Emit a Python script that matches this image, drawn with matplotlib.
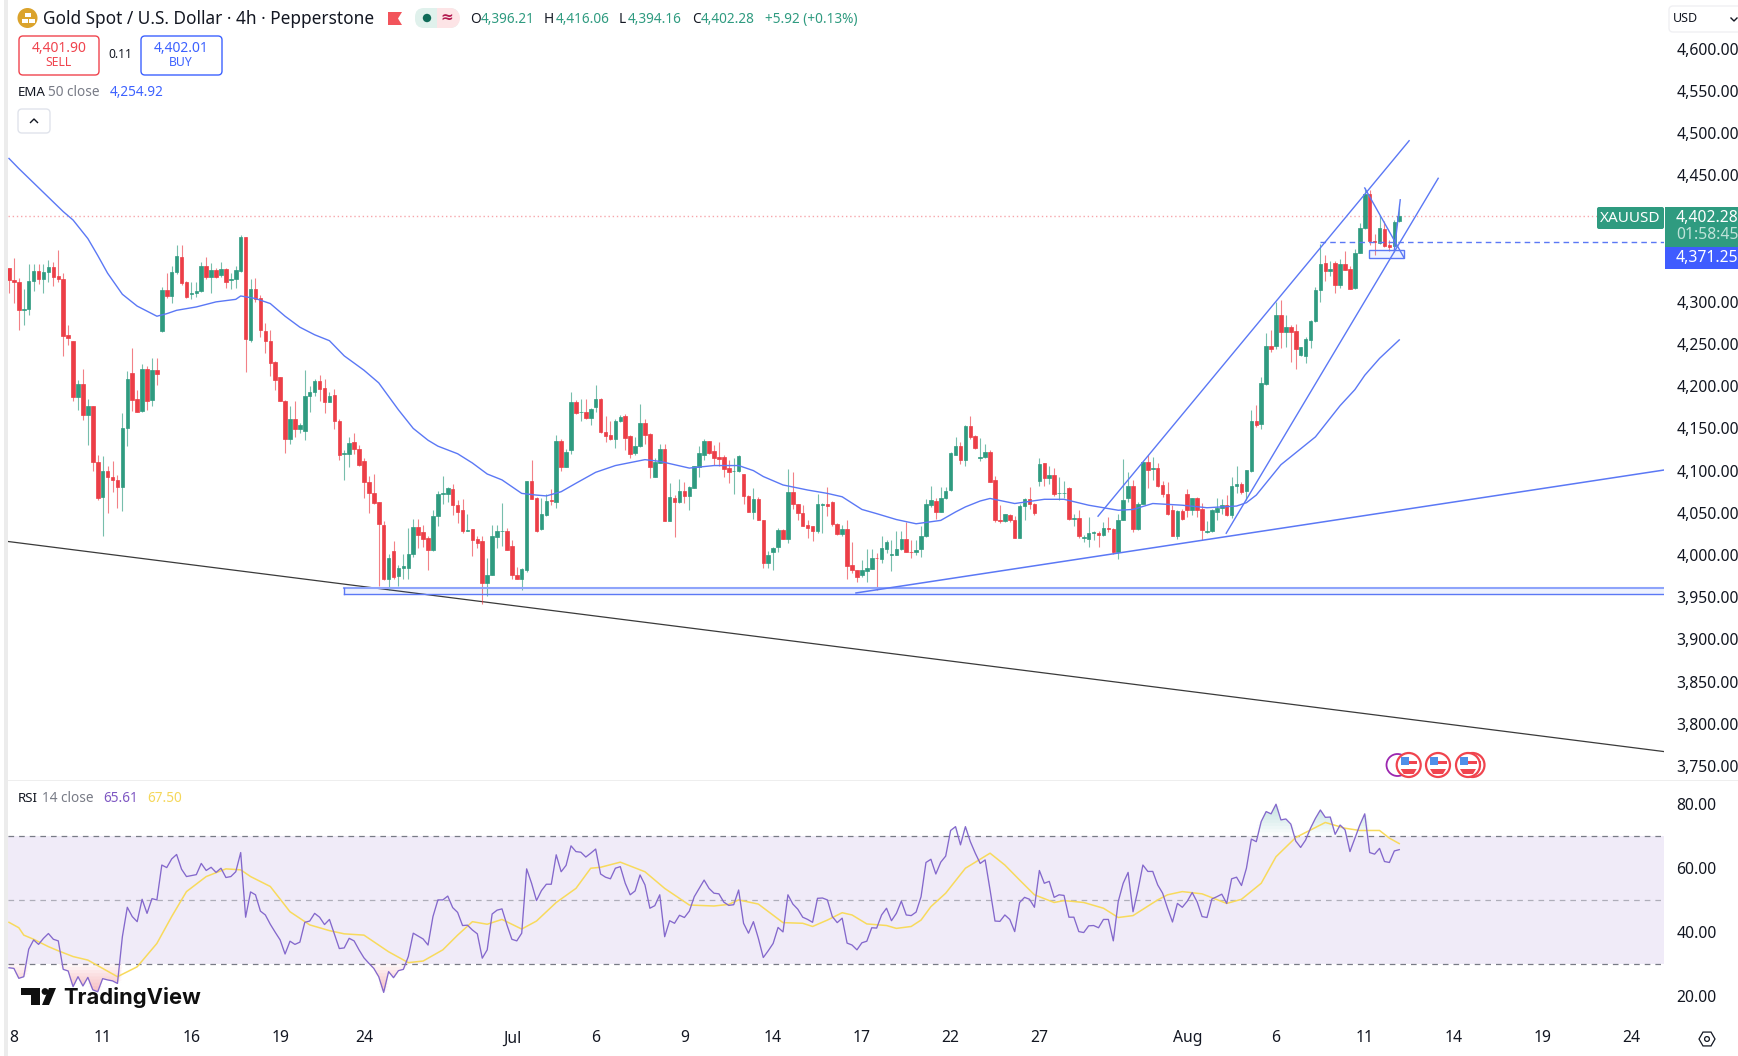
import numpy as np
import matplotlib
matplotlib.use("Agg")
import matplotlib.pyplot as plt
from matplotlib.patches import Rectangle, FancyBboxPatch, Circle, Polygon, RegularPolygon

plt.rcParams['font.family'] = ['Noto Sans', 'DejaVu Sans']

opens = [4340,4326,4324,4290,4292,4325,4337,4327,4335,4341,
4331,4327,4261,4254,4187,4203,4166,4177,4110,4069,
4100,4093,4089,4081,4150,4216,4185,4171,4220,4184,
4219,4266,4314,4307,4335,4353,4323,4309,4311,4313,
4343,4330,4338,4332,4339,4326,4327,4337,4377,4255,
4315,4305,4266,4254,4229,4211,4183,4137,4161,4149,
4147,4189,4193,4206,4198,4181,4190,4159,4120,4120,
4134,4126,4111,4087,4073,4063,4036,3971,4005,3975,
3984,3985,4001,4033,4027,4020,4006,4046,
4072,4072,4078,4059,4053,4029,4031,4019,4017,3967,3976,4021,
4028,4029,4011,3976,3971,3982,4088,4067,4031,4047,
4065,4063,4135,4104,4124,4181,4169,4170,4162,4175,
4185,4146,4142,4138,4159,4165,4141,4121,4129,4157,
4143,4092,4109,4126,4040,4068,4063,4076,4070,4079,
4104,4119,4135,4123,4116,4116,4103,4099,4099,4096,
4070,4051,4066,4042,3991,4004,4009,4030,4019,4075,
4061,4050,4035,4034,4028,4059,4060,4063,4037,4025,
4031,3988,3982,3976,
3981,3983,3997,3995,4007,4000,
4000,4007,4019,4004,4003,4007,4022,4059,4064,4051,
4067,4077,4119,4129,4113,4153,4141,4115,4116,4122,
4089,4041,4040,4047,4041,4020,4058,4066,4061,4088,
4109,4091,4095,4073,4073,4079,4043,4044,4020,4019,
4026,4026,4024,4032,4031,4004,4041,4068,4082,4031,
4061,4110,4102,4103,4083,4072,4053,4023,4052,4072,
4053,4067,4054,4027,4028,4051,4056,4059,4047,4082,
4084,4076,4099,
4159,4155,4203,4248,4248,4284,4264,
4270,4265,4237,4236,4255,4277,4314,4346,4337,4346,
4320,4345,4339,4316,4358,4387,4428,4372,4370,4386,
4367,4366,4396.21]

closes = [4326,4323,4290,4292,4325,4337,4327,4335,4341,4330,
4327,4260,4257,4187,4203,4166,4177,4110,4068,4100,
4093,4089,4081,4151,4209,4184,4170,4220,4183,4219,
4214,4314,4307,4335,4354,4322,4306,4311,4313,4343,
4329,4338,4329,4339,4324,4327,4338,4377,4256,4315,
4304,4267,4254,4228,4207,4182,4137,4161,4149,4154,
4189,4193,4206,4197,4181,4189,4159,4119,4121,4133,
4126,4107,4087,4073,4062,4037,3971,3997,3974,3985,
3987,4001,4033,4024,4019,4006,4046,4072,
4073,4079,4059,4051,4029,4030,4018,4014,3967,3976,4023,4029,
4029,4006,3976,3971,3983,4088,4066,4029,4049,4064,
4064,4135,4104,4122,4181,4168,4170,4162,4173,4185,
4146,4141,4138,4159,4164,4139,4120,4129,4157,4142,
4104,4110,4126,4040,4069,4063,4076,4070,4080,4105,
4121,4135,4121,4115,4114,4102,4098,4100,4117,4070,
4051,4066,4042,3990,4000,4008,4030,4019,4075,4060,
4050,4034,4032,4028,4060,4061,4058,4037,4025,4031,
3987,3982,3974,3982,
3984,3997,3996,4008,4015,4001,
4007,4019,4003,4003,4006,4023,4060,4065,4051,4067,
4076,4121,4129,4113,4153,4140,4127,4116,4122,4087,
4041,4040,4048,4041,4020,4058,4066,4061,4050,4108,
4091,4095,4072,4074,4074,4043,4044,4022,4021,4026,
4027,4024,4032,4031,4004,4042,4065,4082,4031,4061,
4110,4101,4103,4082,4072,4049,4023,4052,4043,4053,
4067,4053,4030,4029,4053,4056,4059,4047,4082,4084,
4075,4101,4159,
4154,4204,4248,4244,4284,4264,4270,
4264,4244,4246,4256,4277,4314,4345,4337,4339,4320,
4345,4338,4315,4358,4388,4428,4372,4371,4387,4366,
4365,4395,4402.28]

highs = [4340,4352,4328,4315,4345,4345,4345,4345,4350,4347,
4362,4334,4273,4254,4207,4221,4185,4177,4119,4117,
4105,4111,4095,4168,4218,4245,4196,4226,4224,4234,
4234,4318,4334,4343,4367,4367,4325,4324,4324,4347,
4353,4346,4340,4347,4340,4334,4342,4379,4377,4327,
4328,4308,4275,4267,4230,4211,4184,4177,4182,4157,
4219,4200,4209,4213,4209,4193,4197,4161,4125,4140,
4144,4130,4115,4094,4096,4063,4040,4001,4017,3988,
4001,4032,4043,4043,4036,4022,4053,4076,
4094,4081,4084,4065,4066,4049,4031,4023,4022,3997,4036,4036,
4062,4032,4018,3986,3985,4088,4113,4069,4067,4072,
4078,4142,4137,4126,4193,4184,4185,4185,4174,4201,
4186,4165,4159,4161,4166,4167,4142,4140,4179,4161,
4144,4115,4132,4131,4085,4071,4090,4087,4082,4105,
4129,4137,4135,4130,4134,4119,4113,4115,4119,4096,
4071,4079,4069,4042,4005,4010,4032,4031,4102,4098,
4061,4059,4042,4034,4072,4062,4080,4064,4038,4036,
4042,4015,3982,3994,
4007,4007,4002,4022,4018,4018,
4028,4028,4039,4018,4018,4034,4066,4082,4067,4081,
4080,4122,4140,4134,4154,4165,4142,4139,4132,4124,
4094,4059,4049,4049,4046,4060,4067,4080,4062,4115,
4109,4105,4103,4092,4088,4080,4049,4053,4024,4045,
4028,4029,4039,4045,4032,4049,4114,4098,4089,4063,
4111,4119,4116,4109,4088,4086,4059,4053,4054,4078,
4068,4069,4062,4040,4055,4067,4066,4071,4092,4105,
4087,4101,4172,
4178,4211,4263,4267,4300,4302,4284,
4273,4274,4247,4258,4279,4318,4369,4356,4348,4349,
4351,4360,4342,4363,4393,4435,4433,4380,4403,4396,
4373,4397,4416.06]

lows = [4311,4299,4267,4272,4285,4313,4321,4311,4323,4319,
4324,4236,4249,4182,4172,4160,4130,4100,4065,4023,
4050,4075,4056,4052,4129,4171,4169,4169,4172,4176,
4201,4264,4305,4299,4333,4320,4305,4304,4306,4312,
4327,4311,4328,4329,4316,4315,4316,4336,4217,4253,
4300,4258,4239,4212,4196,4182,4121,4132,4140,4144,
4136,4169,4188,4182,4168,4181,4149,4113,4089,4104,
4120,4106,4068,4050,4061,3963,3970,3959,3971,3963,
3971,3972,3998,4008,4009,3982,4005,4034,
4061,4063,4047,4038,4026,4029,3999,4008,3942,3951,3976,4008,
4011,4006,3972,3971,3959,3980,4066,4027,4030,4046,
4059,4056,4099,4104,4120,4167,4159,4161,4154,4169,
4145,4134,4136,4127,4158,4124,4115,4119,4128,4132,
4091,4092,4109,4040,4040,4021,4062,4062,4053,4079,
4093,4113,4120,4107,4106,4093,4085,4072,4098,4060,
4051,4043,4041,3985,3985,3982,4004,4019,4014,4055,
4042,4034,4020,4016,4026,4026,4046,4034,4024,4022,
3972,3979,3968,3974,
3968,3983,3959,3990,4002,3981,
4000,4006,4003,3997,4000,3998,4021,4057,4043,4051,
4066,4076,4118,4108,4105,4137,4126,4111,4115,4086,
4039,4038,4039,4039,4020,4020,4042,4055,4047,4082,
4082,4084,4070,4065,4067,4041,4034,4020,4015,4010,
4018,4009,4023,4027,4001,3995,4041,4063,4027,4030,
4061,4079,4089,4080,4069,4047,4022,4019,4042,4045,
4047,4045,4018,4026,4027,4041,4049,4046,4044,4073,
4072,4065,4098,
4152,4149,4202,4241,4244,4245,4247,
4229,4221,4236,4228,4245,4276,4300,4325,4331,4311,
4316,4338,4315,4315,4358,4386,4367,4356,4369,4365,
4360,4359,4394.16]

ema_bars = [1,3,6,9,12,14,17,19,21,24,27,31,33,35,39,43,47,48,51,54,57,60,63,66,69,73,76,80,83,86,88,
92,95,98,101,103,105,108,110,113,116,120,124,130,133,139,144,149,152,154,158,163,167,170,174,
177,181,185,190,193,195,198,200,205,211,215,220,226,229,233,239,244,250,252,254,259,266,271,274,276,279,283]
ema_vals = [4470,4458,4441,4424,4407,4397,4375,4355,4334,4309,4295,4283,4286,4290,4294,4300,4303,4307,4304,4298,4283,4270,4261,4254,4236,4219,4204,4172,4150,4136,4129,
4120,4109,4096,4089,4081,4073,4071,4070,4075,4085,4098,4106,4113,4111,4103,4106,4106,4100,4093,4083,4077,4073,4069,4054,
4049,4042,4037,4041,4051,4057,4064,4067,4061,4066,4066,4059,4053,4054,4061,4059,4056,4058,4062,4071,4107,4140,4177,4196,4213,4233,4254.92]

rsi_vals = [28.7,28.5,25.4,25.9,34.5,37.4,36.0,37.9,39.4,37.6,37.1,28.2,27.7,22.8,25.9,23.0,25.7,21.8,21.2,25.3,
24.9,24.6,23.8,38.4,47.6,44.7,43.1,50.1,45.7,50.3,49.9,60.8,60.0,62.7,64.1,59.5,57.2,57.5,57.8,61.3,
59.1,60.1,58.5,59.8,56.9,57.2,58.7,64.7,44.5,52.4,51.5,46.4,45.2,42.3,39.8,37.4,33.0,37.0,36.0,36.7,
42.9,43.3,45.7,44.5,42.2,43.8,39.2,34.7,34.9,37.9,37.1,34.3,31.8,30.1,28.5,25.9,21.0,27.5,25.6,27.8,
28.2,32.2,39.5,38.6,37.7,35.8,44.7,49.9,49.9,51.1,47.5,46.0,41.9,42.0,40.5,39.3,31.7,34.3,45.5,46.7,
47.1,42.1,37.6,37.1,39.5,59.6,55.1,49.7,52.8,54.8,54.8,64.0,58.7,60.7,66.8,65.0,64.8,63.3,64.5,65.8,
58.0,57.0,56.5,59.8,60.3,55.1,51.5,52.7,57.7,54.6,47.3,48.1,51.5,38.4,43.4,42.6,45.1,44.4,46.4,50.9,
53.5,56.1,53.5,52.0,51.8,49.2,48.2,48.4,53.0,42.6,39.5,43.1,37.9,31.9,34.0,36.3,41.3,39.9,51.5,48.6,
47.0,44.5,43.8,42.9,50.4,50.5,49.9,44.7,42.8,44.2,36.4,35.8,34.3,36.5,37.0,41.2,41.1,45.2,47.3,43.4,
45.7,49.5,45.2,45.0,46.1,50.9,61.6,62.6,58.0,61.7,63.6,71.6,72.8,67.1,72.8,68.1,64.5,61.3,62.4,53.0,
43.3,43.2,45.2,43.8,40.0,49.1,50.7,50.1,47.6,59.1,55.1,55.7,50.7,51.5,51.3,44.5,44.5,40.0,39.7,41.8,
41.9,41.2,43.8,43.8,37.1,49.4,55.1,58.5,46.2,53.0,60.8,58.8,58.8,54.6,52.0,47.3,43.0,48.8,47.6,49.5,
52.2,49.3,44.7,44.4,50.2,50.9,51.7,48.8,56.5,57.0,54.4,59.8,68.9,68.1,74.4,77.5,76.8,79.8,74.9,75.2,
73.6,68.3,66.3,68.6,72.3,75.4,78.0,75.7,75.8,70.4,73.3,71.8,65.0,69.2,73.3,76.8,64.7,64.2,66.0,61.9,
61.6,65.2,65.61]

ma_bars = [1,3,4,6,9,11,14,17,20,23,27,31,34,37,41,45,48,50,54,58,62,66,69,73,78,82,85,89,92,95,98,101,105,108,112,116,119,121,
125,130,134,139,144,147,149,153,158,162,164,167,170,172,175,179,181,184,186,188,191,195,200,203,206,209,213,215,219,223,226,229,234,236,239,243,
248,251,255,258,262,268,272,275,279,281,283]
ma_vals = [42.9,41.2,38.9,37.6,35.3,34.0,32.2,31.1,28.5,25.9,29.0,36.3,44.7,52.5,57.2,59.6,59.3,57.2,54.1,46.2,42.1,40.3,39.3,38.9,33.7,30.3,30.8,34.3,38.9,43.1,42.3,43.8,40.8,43.3,49.1,53.5,59.8,60.1,
61.7,58.7,53.5,48.3,48.0,48.5,49.9,48.6,42.8,42.6,41.6,43.6,45.9,45.2,42.4,41.9,41.0,41.6,43.6,47.8,52.0,59.8,64.5,60.8,56.1,51.5,49.1,49.7,49.1,47.3,44.4,45.0,49.9,51.5,52.5,51.8,
48.8,50.1,55.1,63.4,69.4,74.1,72.3,71.6,71.6,69.2,67.50]

price_ticks = [3750,3800,3850,3900,3950,4000,4050,4100,4150,4200,4250,4300,4450,4500,4550,4600]
rsi_ticks = [20,40,60,80]
date_bars = [2,20,38,56,73,103,120,138,156,174,192,210,240,258,276,294,312,330]
date_labels = ['8','11','16','19','24','Jul','6','9','14','17','22','27','Aug','6','11','14','19','24']

GREEN, RED, BLUE = '#2f9b80', '#ec3e47', '#5b78f5'
PURPLE, YELLOW = '#7e57c2', '#f7dc6f'
W, H = 1738, 1056
fig = plt.figure(figsize=(W/100, H/100), dpi=100, facecolor='white')

ax = fig.add_axes([8/W, 1-780/H, (1664-8)/W, 780/H])
rx = fig.add_axes([8/W, 1-1018/H, (1664-8)/W, (1018-781)/H], sharex=ax)
ax.set_xlim(0.8, 336.7)
ax.set_ylim(3733.3, 4657.8)
rx.set_ylim(13.0, 87.06)

bars = np.arange(1, len(opens)+1)
o, h, l, c = map(np.array, (opens, highs, lows, closes))
cols = [GREEN if cc >= oo else RED for oo, cc in zip(o, c)]
ax.vlines(bars, l, h, colors=cols, lw=0.8, alpha=0.65, zorder=3)
ax.bar(bars, np.abs(c-o), bottom=np.minimum(o, c), width=0.72, color=cols,
       edgecolor=cols, linewidth=0.5, zorder=4)
ax.plot(ema_bars, ema_vals, color=BLUE, lw=1.0, zorder=5, solid_joinstyle='round')

# drawings (bar, price)
xr = 336.7
ax.plot([0.8, xr], [4016, 3767], color='#3a3a3a', lw=0.9, zorder=2)
ax.add_patch(Rectangle((68.9, 3953.4), xr-68.9, 7.9, facecolor='#2962ff', alpha=0.08, lw=0, zorder=2))
ax.plot([68.9, xr], [3961.3, 3961.3], color='#8ea4fb', lw=1.5, zorder=6)
ax.plot([68.9, xr], [3953.4, 3953.4], color=BLUE, lw=1.0, zorder=6)
ax.plot([68.9, 68.9], [3953.4, 3961.3], color=BLUE, lw=1.0, zorder=6)
ax.plot([172.8, xr], [3955, 4100.7], color=BLUE, lw=1.1, zorder=6)
ax.plot([221.9, 285], [4046, 4491], color=BLUE, lw=1.0, zorder=6)
ax.plot([247.9, 290.9], [4025.8, 4446.5], color=BLUE, lw=1.0, zorder=6)
ax.plot([267, xr], [4371.25, 4371.25], color=BLUE, lw=1.0, ls=(0, (4, 3)), zorder=6)
ax.plot([0.8, xr], [4402.28, 4402.28], color='#f7a6ab', lw=1.0, ls=(0, (1, 2)), zorder=1)
ax.add_patch(Rectangle((276.9, 4351.7), 7.1, 9.5, facecolor='#2962ff', alpha=0.07, lw=0, zorder=5))
ax.add_patch(Rectangle((276.9, 4351.7), 7.1, 9.5, fill=False, edgecolor=BLUE, lw=1.0, zorder=6))
ax.plot([276, 284], [4435, 4352], color=BLUE, lw=1.0, zorder=6)
ax.plot([282, 283.2], [4361, 4421], color=BLUE, lw=1.0, zorder=6)

# RSI
rb = np.arange(1, len(rsi_vals)+1)
rv = np.array(rsi_vals)
rx.axhspan(30, 70, facecolor=PURPLE, alpha=0.115, lw=0, zorder=1)
for lv, a in ((70, 1.0), (50, 0.55), (30, 1.0)):
    rx.axhline(lv, color='#787b86', lw=0.9, ls=(0, (4.5, 4)), alpha=a, zorder=2)
for d in np.arange(0, 10, 1.0):
    rx.fill_between(rb, 70+d, np.maximum(rv, 70+d), where=rv > 70+d, interpolate=True,
                    color='#089981', alpha=0.022, lw=0, zorder=2)
    rx.fill_between(rb, 30-d, np.minimum(rv, 30-d), where=rv < 30-d, interpolate=True,
                    color='#f23645', alpha=0.04, lw=0, zorder=2)
rx.plot(ma_bars, ma_vals, color='#f8da5c', lw=1.1, zorder=3)
rx.plot(rb, rv, color='#8468cc', lw=0.95, zorder=4)

tick_font = dict(fontsize=11.3, color='#131722')
ax.yaxis.tick_right()
ax.set_yticks(price_ticks)
ax.set_yticklabels([f'{p:,.2f}' for p in price_ticks], **tick_font)
rx.yaxis.tick_right()
rx.set_yticks(rsi_ticks)
rx.set_yticklabels([f'{p:.2f}' for p in rsi_ticks], **tick_font)
ax.tick_params(axis='y', length=0, pad=9)
rx.tick_params(axis='y', length=0, pad=9)
ax.tick_params(axis='x', length=0, labelbottom=False)
rx.set_xticks(date_bars)
rx.set_xticklabels(date_labels, **tick_font)
rx.tick_params(axis='x', length=0, pad=9)
for a in (ax, rx):
    for s in a.spines.values():
        s.set_visible(False)
    a.patch.set_alpha(0)

# interface furniture in pixel coordinates
ui = fig.add_axes([0, 0, 1, 1], zorder=10)
ui.set_xlim(0, W); ui.set_ylim(H, 0); ui.axis('off'); ui.patch.set_alpha(0)

def t(x, y, s, size=9.6, color='#131722', ha='left', **kw):
    ui.text(x, y, s, fontsize=size, color=color, ha=ha, va='center', **kw)

def box(x0, y0, x1, y1, ec, fc='white', r=4, lw=1.0):
    ui.add_patch(FancyBboxPatch((x0+r, y0+r), x1-x0-2*r, y1-y0-2*r,
                 boxstyle=f'round,pad={r},rounding_size={r}', ec=ec, fc=fc, lw=lw))

ui.add_patch(Rectangle((4, 0), 3.5, H, fc='#ececec', lw=0))
ui.add_patch(Rectangle((8, 779.5), 1730, 1.2, fc='#eeeeee', lw=0))

# header
ui.add_patch(Circle((27.5, 18), 10, fc='#dba32c', lw=0))
for bx, by in ((27.5-3, 13), (22, 19), (28.5, 19)):
    ui.add_patch(Rectangle((bx, by), 6, 4, fc='white', lw=0))
t(43, 19.5, 'Gold Spot / U.S. Dollar · 4h · Pepperstone', size=12.4)
ui.add_patch(Polygon([(388, 12), (402, 12), (398, 18.5), (402, 25), (388, 25)], fc='#f2545b', lw=0))
box(415, 8, 459, 28, ec='none', fc='#e0f1ec', r=9)
ui.add_patch(Rectangle((437, 8), 13, 20, fc='#fde4e6', lw=0))
ui.add_patch(Circle((450, 18), 10, fc='#fde4e6', lw=0))
ui.add_patch(Circle((427, 18), 4.2, fc='#0f6b58', lw=0))
t(447, 18, '≈', size=11, color='#b3194f', ha='center', fontweight='bold')
for x, s, col in ((470, 'O', '#131722'), (481, '4,396.21', GREEN), (544, 'H', '#131722'), (556, '4,416.06', GREEN),
                  (619, 'L', '#131722'), (628, '4,394.16', GREEN), (692, 'C', '#131722'), (701, '4,402.28', GREEN),
                  (765, '+5.92 (+0.13%)', GREEN)):
    t(x, 19.5, s, size=9.8, color=col)
box(19, 36, 99, 75, ec='#f0444e')
t(59, 48, '4,401.90', size=10, color='#f0444e', ha='center')
t(59, 63, 'SELL', size=8.8, color='#f0444e', ha='center')
t(120, 55, '0.11', size=8.6, ha='center')
box(141, 36, 222, 75, ec='#3d62ff')
t(181, 48, '4,402.01', size=10, color='#3d62ff', ha='center')
t(181, 63, 'BUY', size=8.8, color='#3d62ff', ha='center')
t(18, 93, 'EMA', size=9.6)
t(48, 93, '50 close', size=9.8, color='#787b86')
t(110, 93, '4,254.92', size=9.8, color='#3d62ff')
box(18, 109, 50, 133, ec='#e0e3eb')
ui.plot([30.5, 34, 37.5], [122.5, 119, 122.5], color='#131722', lw=1.0)

# scale furniture
box(1669, 6, 1760, 32, ec='#f0f0f3', r=4)
t(1673, 19, 'USD', size=9.0)
ui.plot([1731, 1734, 1737], [18, 21, 18], color='#131722', lw=1.0)
box(1597, 207, 1664, 229, ec='none', fc=GREEN, r=2)
t(1630.5, 218, 'XAUUSD', size=11.0, color='white', ha='center')
ui.add_patch(Rectangle((1665, 206.7), 73, 40.6, fc=GREEN, lw=0))
ui.add_patch(Rectangle((1665, 247.3), 73, 22, fc='#3f5cff', lw=0))
t(1676, 218, '4,402.28', size=11.3, color='white')
t(1676, 235, '01:58:45', size=11.3, color='#bfe3d9')
t(1676, 258, '4,371.25', size=11.3, color='white')

# economic event icons
ui.add_patch(Circle((1397.5, 765), 11, fc='white', ec='#9c27b0', lw=1.3))
for cx in (1472.5, 1408.7, 1438, 1468):
    ui.add_patch(Circle((cx, 765), 12, fc='white', ec='#f0444e', lw=1.6))
    ui.add_patch(Rectangle((cx-8, 757), 8, 7.5, fc='#4f8fe8', lw=0))
    ui.add_patch(Rectangle((cx, 761), 8.5, 3, fc='#f0444e', lw=0))
    ui.add_patch(Polygon([(cx-8, 769), (cx+8, 769), (cx+5, 774), (cx-5, 774)], fc='#f0444e', lw=0))

# RSI legend
t(18, 799, 'RSI', size=9.6)
t(42, 799, '14 close', size=9.8, color='#787b86')
t(103, 799, '65.61', size=9.8, color=PURPLE)
t(147, 799, '67.50', size=9.8, color='#f5d75a')

# logo
ui.add_patch(Polygon([(21, 988), (40, 988), (40, 1005), (31, 1005), (31, 994.5), (21, 994.5)], fc='#0f0f0f', lw=0))
ui.add_patch(Circle((45, 991.5), 3.4, fc='#0f0f0f', lw=0))
ui.add_patch(Polygon([(42, 1005), (49, 988), (56, 988), (49, 1005)], fc='#0f0f0f', lw=0))
t(63, 997, 'TradingView', size=15.8, color='#0f0f0f', fontweight='bold', family='Inter')

# settings icon
ui.add_patch(RegularPolygon((1707, 1039), 6, radius=8, orientation=np.pi/6, fc='none', ec='#131722', lw=0.9))
ui.add_patch(Circle((1707, 1039), 2.4, fc='none', ec='#131722', lw=0.9))

fig.savefig('out.png', dpi=100, facecolor='white')
